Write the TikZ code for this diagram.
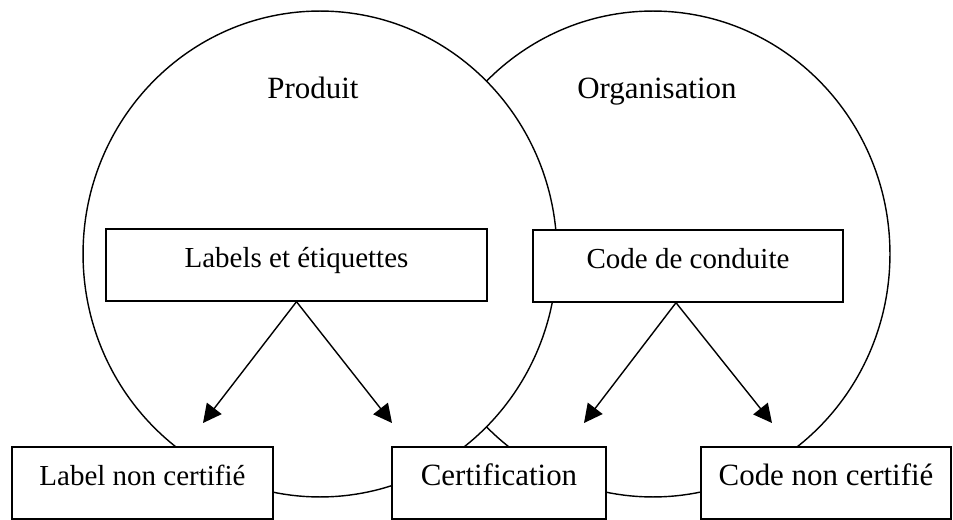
\documentclass[tikz,border=0pt]{standalone}
\usepackage{fontspec}
\setmainfont{Liberation Serif}
\usepackage{tikz}
\usetikzlibrary{shapes.geometric, arrows.meta, positioning}
\tikzstyle{zone} = [
    ellipse, draw=black, line width=0.8pt,
    minimum width=9.48cm, minimum height=9.72cm, inner sep=0pt
]
\tikzstyle{labelbox} = [
    rectangle, draw=black, fill=white, line width=0.8pt,
    minimum height=1.44cm, inner sep=0pt,
    text height=0.4cm, text depth=0.3cm,
    font=\fontsize{16.5}{19}\selectfont
]
\tikzstyle{bigtext} = [font=\fontsize{17.6}{21}\selectfont]
\tikzstyle{arrow} = [line width=0.8pt, -{Triangle[length=0.37cm, width=0.37cm]}]

\begin{document}
\begin{tikzpicture}[x=0.02cm, y=-0.02cm]
    \useasboundingbox (0,0) rectangle (953,520);

    % the two domains, Produit lies on top of Organisation
    \node [zone] (org) at (653,254) {};
    \node [zone, fill=white] (prod) at (320,254) {};
    \node [bigtext, anchor=base] (prodtitle) at (313,99) {Produit};
    \node [bigtext, anchor=base] (orgtitle) at (657,99) {Organisation};

    \node [labelbox, minimum width=7.62cm] (labels) at (296.5,265) {Labels et étiquettes};
    \node [labelbox, minimum width=6.2cm] (code) at (688,266) {Code de conduite};
    \node [labelbox, minimum width=5.22cm] (labelnc) at (142.5,483) {Label non certifié};
    \node [labelbox, bigtext, minimum width=4.28cm] (certif) at (499,483) {Certification};
    \node [labelbox, bigtext, minimum width=5cm] (codenc) at (826,483) {Code non certifié};

    \coordinate (tiplabelnc) at (203,423);
    \coordinate (tipcertifa) at (392,423);
    \coordinate (tipcertifb) at (584,423);
    \coordinate (tipcodenc) at (772,423);

    \path [draw, arrow] (labels.south) -- (tiplabelnc);
    \path [draw, arrow] (labels.south) -- (tipcertifa);
    \path [draw, arrow] ([xshift=-0.24cm]code.south) -- (tipcertifb);
    \path [draw, arrow] ([xshift=-0.24cm]code.south) -- (tipcodenc);
\end{tikzpicture}
\end{document}
